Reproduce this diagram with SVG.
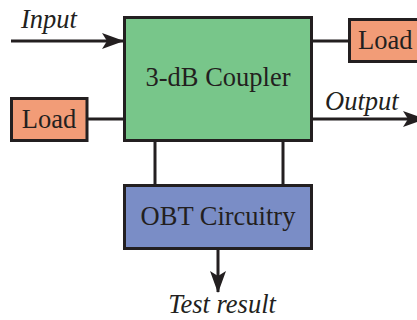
<svg xmlns="http://www.w3.org/2000/svg" width="417" height="320" viewBox="0 0 417 320">
<style>
.box{stroke:#231f20;stroke-width:3}
.ln{stroke:#231f20;stroke-width:3;fill:none}
.t{font-family:"Liberation Serif","Times New Roman",serif;font-size:26.5px;fill:#231f20}
.i{font-style:italic}
</style>
<defs>
<marker id="ah" viewBox="0 0 22 16" refX="21" refY="8" markerWidth="22" markerHeight="16" markerUnits="userSpaceOnUse" orient="auto">
<path d="M0,0 L22,8 L0,16 L5,8 Z" fill="#231f20"/>
</marker>
</defs>
<rect width="417" height="320" fill="#ffffff"/>
<g id="connectors">
<line class="ln" x1="11" y1="41" x2="123" y2="41" marker-end="url(#ah)"/>
<line class="ln" x1="311" y1="41" x2="349" y2="41"/>
<line class="ln" x1="87" y1="119" x2="124" y2="119"/>
<line class="ln" x1="311" y1="119" x2="424" y2="119" marker-end="url(#ah)"/>
<line class="ln" x1="155" y1="140" x2="155" y2="185"/>
<line class="ln" x1="283" y1="140" x2="283" y2="185"/>
<line class="ln" x1="218" y1="249" x2="218" y2="292" marker-end="url(#ah)"/>
</g>
<g id="coupler">
<rect class="box" x="124.5" y="17.5" width="187" height="123" fill="#78c68a"/>
<text class="t" x="218" y="86" text-anchor="middle">3-dB Coupler</text>
</g>
<g id="load-right">
<rect class="box" x="349.5" y="19.5" width="80" height="42" fill="#f29c77"/>
<text class="t" x="358" y="49">Load</text>
</g>
<g id="load-left">
<rect class="box" x="11.5" y="98.5" width="75.5" height="42" fill="#f29c77"/>
<text class="t" x="49" y="128" text-anchor="middle">Load</text>
</g>
<g id="obt">
<rect class="box" x="124.5" y="185.5" width="187" height="63" fill="#7a8dc6"/>
<text class="t" x="218" y="225" text-anchor="middle">OBT Circuitry</text>
</g>
<g id="labels">
<text class="t i" x="21" y="28">Input</text>
<text class="t i" x="325" y="110">Output</text>
<text class="t i" x="222" y="313" text-anchor="middle">Test result</text>
</g>
</svg>
